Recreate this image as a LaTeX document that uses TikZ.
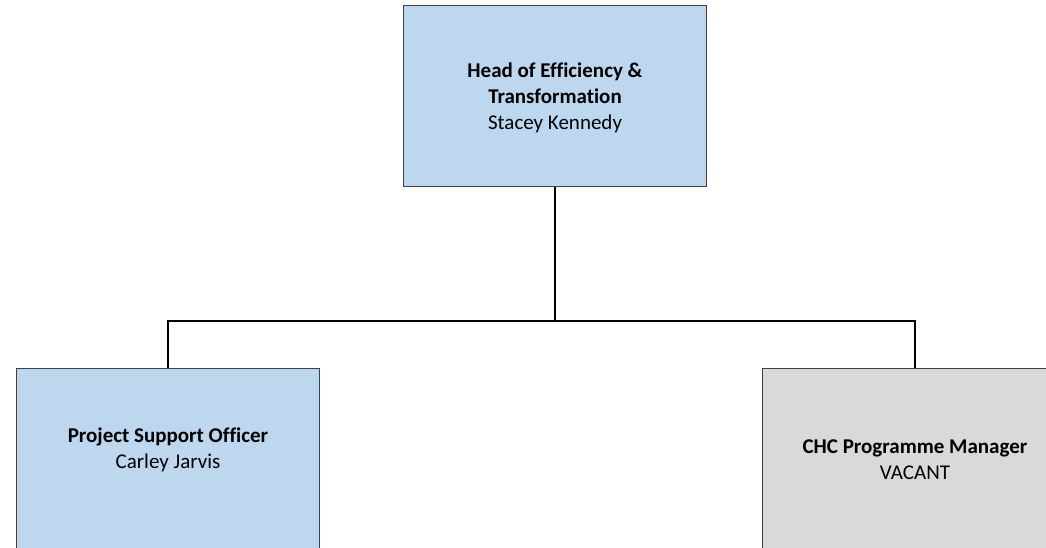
\documentclass[tikz,border=0pt]{standalone}
\usepackage{fontspec}
\setmainfont{Carlito}[Ligatures=NoCommon]
\definecolor{postblue}{HTML}{BDD7EE}
\definecolor{postgrey}{HTML}{D9D9D9}
\definecolor{edgegrey}{HTML}{404040}
\tikzset{
  post/.style={draw=edgegrey, line width=1pt, minimum width=303pt, minimum height=181pt, inner sep=0pt},
  filled/.style={post, fill=postblue},
  vacant/.style={post, fill=postgrey, minimum width=306pt},
  caption/.style={align=center, font=\fontsize{21}{25.8}\selectfont, inner sep=0pt},
  link/.style={draw=black, line width=1.1pt}
}
\begin{document}
\begin{tikzpicture}[x=1pt, y=-1pt]
  \clip (0,0) rectangle (1046,548);
  \fill[white] (0,0) rectangle (1046,548);

  % boxes
  \node[filled] (head) at (555,96.5) {};
  \node[filled] (pso) at (168,458.5) {};
  \node[vacant] (chc) at (915,458.5) {};

  % box texts
  \node[caption] (headtxt) at (555,98) {\textbf{Head of Efficiency \&}\\\textbf{Transformation}\\Stacey Kennedy};
  \node[caption] (psotxt) at (168,449.5) {\textbf{Project Support Officer}\\Carley Jarvis};
  \node[caption] (chctxt) at (915,459.5) {\textbf{CHC Programme Manager}\\VACANT};

  % reporting lines
  \coordinate (bus) at (555,321);
  \draw[link] (head.south) -- (bus);
  \draw[link] (pso.north) |- (bus) -| (chc.north);
\end{tikzpicture}
\end{document}
